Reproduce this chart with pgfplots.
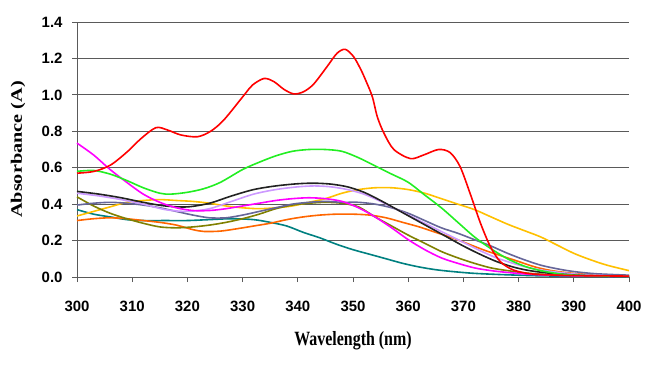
\documentclass[border=0pt]{standalone}
\usepackage{fontspec}
\setmainfont{Liberation Serif}
\setsansfont{Liberation Sans}
\usepackage{graphicx}
\usepackage{pgfplots}
\pgfplotsset{compat=1.18}
\definecolor{cRed}{HTML}{FF0000}
\definecolor{cGreen}{HTML}{22EE22}
\definecolor{cMag}{HTML}{FF00FF}
\definecolor{cBlack}{HTML}{222222}
\definecolor{cLav}{HTML}{CC99FF}
\definecolor{cSlate}{HTML}{666699}
\definecolor{cOrange}{HTML}{FF6600}
\definecolor{cTeal}{HTML}{008080}
\definecolor{cGold}{HTML}{FFC000}
\definecolor{cOlive}{HTML}{808000}
\definecolor{cGrid}{HTML}{5A5A5A}
\begin{document}
\begin{tikzpicture}
\begin{axis}[name=ax,
  scale only axis, width=552bp, height=255bp,
  xmin=300, xmax=400, ymin=0, ymax=1.4,
  xtick={300,310,...,400}, ytick={0,0.2,...,1.4},
  axis x line*=bottom, axis y line*=left,
  axis line style={cGrid, line width=1pt, -},
  tick style={cGrid, line width=0.8pt},
  tick align=outside, major tick length=5bp,
  ymajorgrids, grid style={cGrid, line width=1pt},
  /pgf/number format/assume math mode=true,
  yticklabel style={/pgf/number format/fixed,/pgf/number format/precision=1,/pgf/number format/fixed zerofill, xshift=-6bp},
  ticklabel style={font=\sffamily\bfseries\fontsize{15}{17}\selectfont},
  xticklabel style={yshift=-16bp},
  xlabel={\scalebox{1}[1.27]{\bfseries Wavelength (nm)}},
  ylabel={\scalebox{1.27}[1]{\bfseries Absorbance (A)}},
  label style={font=\fontsize{16}{18}\selectfont},
  xlabel style={at={(axis description cs:0.5,0)}, anchor=center, yshift=-64bp},
  ylabel style={at={(axis description cs:0,0.5)}, anchor=center, yshift=59bp},
  every axis plot/.append style={line width=1.6bp, smooth, no marks},
  clip=false,
]
\addplot[cTeal] coordinates {(300,0.37)(303,0.345)(306,0.33)(309,0.315)(312,0.31)(316,0.31)(320,0.31)(324,0.315)(328,0.32)(332,0.315)(335,0.30)(338,0.28)(341,0.245)(344,0.215)(347,0.18)(350,0.15)(353,0.125)(356,0.10)(359,0.075)(362,0.055)(365,0.04)(368,0.03)(372,0.02)(378,0.012)(385,0.006)(400,0.002)};
\addplot[cOrange] coordinates {(300,0.31)(303,0.32)(306,0.325)(309,0.32)(312,0.31)(315,0.30)(318,0.285)(321,0.26)(323,0.25)(326,0.252)(329,0.265)(332,0.28)(335,0.295)(338,0.315)(341,0.33)(344,0.34)(347,0.345)(350,0.345)(353,0.34)(356,0.325)(359,0.30)(362,0.275)(365,0.245)(368,0.215)(371,0.18)(374,0.145)(377,0.115)(380,0.085)(383,0.055)(386,0.035)(390,0.02)(395,0.01)(400,0.005)};
\addplot[cGold] coordinates {(300,0.335)(303,0.36)(306,0.385)(309,0.41)(312,0.42)(315,0.425)(318,0.42)(321,0.415)(324,0.405)(327,0.39)(330,0.38)(333,0.375)(336,0.38)(339,0.39)(342,0.41)(345,0.43)(348,0.46)(351,0.48)(354,0.49)(357,0.49)(360,0.48)(363,0.46)(366,0.43)(369,0.40)(372,0.37)(375,0.33)(378,0.29)(381,0.255)(384,0.22)(387,0.175)(390,0.13)(393,0.095)(396,0.065)(400,0.035)};
\addplot[cOlive] coordinates {(300,0.44)(303,0.39)(306,0.35)(309,0.32)(312,0.295)(315,0.275)(318,0.27)(321,0.275)(324,0.285)(327,0.30)(330,0.32)(333,0.345)(336,0.375)(339,0.395)(342,0.405)(345,0.41)(348,0.405)(351,0.385)(354,0.33)(357,0.28)(360,0.23)(363,0.185)(366,0.14)(369,0.105)(372,0.075)(375,0.05)(378,0.035)(382,0.02)(388,0.01)(400,0.004)};
\addplot[cSlate] coordinates {(300,0.395)(303,0.405)(306,0.41)(309,0.405)(312,0.395)(315,0.38)(318,0.36)(321,0.34)(324,0.325)(327,0.325)(330,0.34)(333,0.36)(336,0.38)(339,0.40)(342,0.41)(345,0.415)(348,0.41)(351,0.41)(354,0.40)(357,0.38)(360,0.35)(363,0.31)(366,0.27)(369,0.24)(372,0.205)(375,0.17)(378,0.13)(381,0.095)(384,0.065)(387,0.045)(390,0.03)(394,0.018)(400,0.01)};
\addplot[cLav] coordinates {(300,0.46)(304,0.445)(308,0.425)(312,0.40)(316,0.37)(320,0.36)(324,0.375)(328,0.415)(332,0.455)(336,0.48)(340,0.495)(343,0.50)(346,0.495)(349,0.48)(352,0.455)(355,0.415)(358,0.37)(361,0.325)(364,0.28)(367,0.235)(370,0.19)(373,0.145)(376,0.105)(379,0.075)(382,0.05)(386,0.03)(392,0.012)(400,0.004)};
\addplot[cBlack] coordinates {(300,0.47)(304,0.455)(308,0.435)(312,0.41)(316,0.39)(320,0.385)(324,0.405)(328,0.445)(332,0.48)(336,0.50)(340,0.512)(343,0.515)(346,0.51)(349,0.495)(352,0.465)(355,0.42)(358,0.37)(361,0.32)(364,0.27)(367,0.22)(370,0.17)(373,0.125)(376,0.085)(379,0.055)(382,0.035)(386,0.02)(392,0.008)(400,0.003)};
\addplot[cMag] coordinates {(300,0.735)(303,0.67)(306,0.59)(309,0.52)(312,0.455)(315,0.41)(318,0.38)(321,0.365)(324,0.365)(327,0.375)(330,0.39)(333,0.405)(336,0.42)(339,0.43)(342,0.435)(345,0.43)(348,0.415)(351,0.38)(354,0.33)(357,0.27)(360,0.205)(363,0.15)(366,0.105)(369,0.075)(372,0.05)(375,0.035)(378,0.025)(382,0.015)(388,0.008)(400,0.003)};
\addplot[cGreen] coordinates {(300,0.58)(303,0.585)(306,0.565)(309,0.53)(312,0.49)(315,0.46)(317,0.455)(320,0.465)(323,0.485)(326,0.52)(330,0.59)(333,0.63)(336,0.665)(339,0.69)(342,0.70)(345,0.70)(348,0.69)(351,0.655)(354,0.61)(357,0.565)(360,0.52)(363,0.45)(366,0.38)(369,0.30)(372,0.22)(375,0.155)(378,0.10)(381,0.06)(384,0.035)(388,0.015)(392,0.008)(400,0.003)};
\addplot[cRed] coordinates {(300,0.57)(303.1,0.58)(306.1,0.615)(309.2,0.69)(311.6,0.76)(314.3,0.82)(316.4,0.807)(318.8,0.78)(321.8,0.77)(324.2,0.80)(326.6,0.862)(330.3,1.0)(331.8,1.054)(333.9,1.09)(335.7,1.072)(337.5,1.03)(339.3,1.005)(341.1,1.018)(342.9,1.06)(345.3,1.155)(347.1,1.228)(348.6,1.25)(350.1,1.21)(351.4,1.14)(352.3,1.08)(353.5,0.99)(354.4,0.88)(355.6,0.79)(357.4,0.70)(360.4,0.65)(362.8,0.67)(365.5,0.70)(367.6,0.683)(369.4,0.606)(371.2,0.46)(373.1,0.295)(374.9,0.166)(376.7,0.084)(379.1,0.038)(382.7,0.016)(390,0.008)(400,0.005)};
\end{axis}
\path (ax.south west) ++(-77bp,-90bp) coordinate (bl);
\path (ax.north east) ++(29bp,22bp) coordinate (tr);
\path (bl) rectangle (tr);
\end{tikzpicture}
\end{document}
